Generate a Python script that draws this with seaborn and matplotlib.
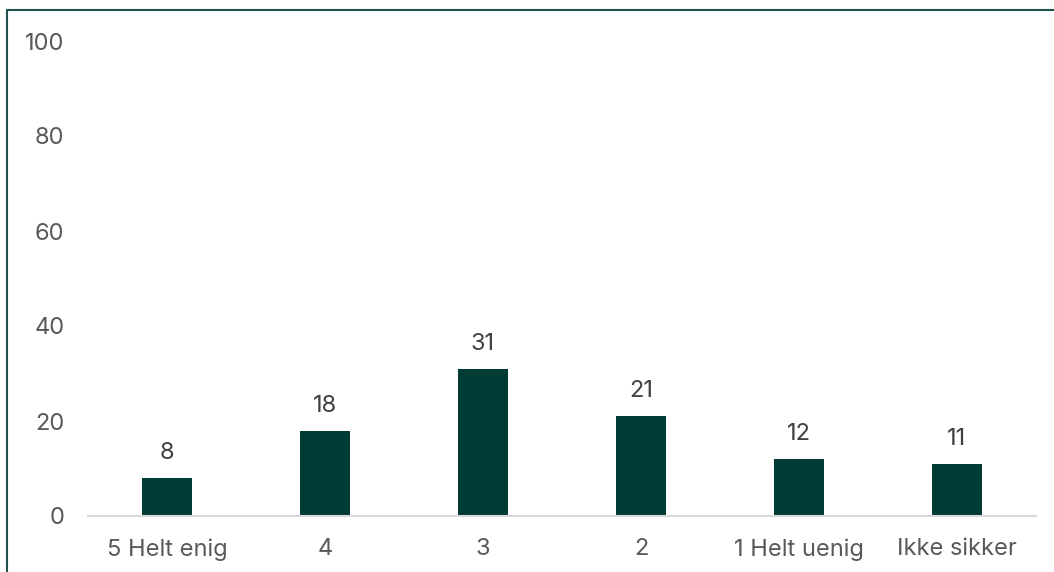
import matplotlib
matplotlib.use("Agg")
import matplotlib.pyplot as plt
import seaborn as sns
import pandas as pd
from matplotlib.patches import Rectangle

categories = ["5 Helt enig", "4", "3", "2", "1 Helt uenig", "Ikke sikker"]
values = [8, 18, 31, 21, 12, 11]
yticks = [0, 20, 40, 60, 80, 100]

sns.set_theme(style="white")
plt.rcParams['font.family'] = ['Inter', 'DejaVu Sans']

df = pd.DataFrame({"cat": categories, "val": values})

W, H = 1054, 572
fig = plt.figure(figsize=(W / 100, H / 100), dpi=100)
ax = fig.add_axes([88 / W, 1 - 516 / H, (1036 - 88) / W, (516 - 41) / H])

bar_color = "#003b36"
sns.barplot(data=df, x="cat", y="val", color=bar_color, width=0.316,
            saturation=1, ax=ax, edgecolor="none")

ax.set_xlim(-0.5, len(categories) - 0.5)
ax.set_ylim(0, 100)
ax.set_yticks(yticks)
ax.set_yticklabels([str(t) for t in yticks])
ax.set_xlabel("")
ax.set_ylabel("")

text_color = "#595959"
fs = 17
ax.tick_params(axis="y", length=0, pad=17, labelsize=fs, labelcolor=text_color)
ax.tick_params(axis="x", length=0, pad=16, labelsize=fs, labelcolor=text_color)

for s in ["top", "right", "left"]:
    ax.spines[s].set_visible(False)
ax.spines["bottom"].set_color("#d9d9d9")
ax.spines["bottom"].set_linewidth(1.5)
ax.grid(False)

for i, v in enumerate(values):
    ax.annotate(str(v), (i, v), xytext=(0, 10), textcoords="offset points",
                ha="center", va="bottom", fontsize=fs, color="#404040")

# outer frame (partially cropped in reference)
fig.patches.append(Rectangle((7 / W, -0.2), 1.5, 1 - 10 / H + 0.2,
                             transform=fig.transFigure, fill=False,
                             edgecolor="#1f5049", linewidth=1.5))

fig.savefig("out.png", dpi=100)
